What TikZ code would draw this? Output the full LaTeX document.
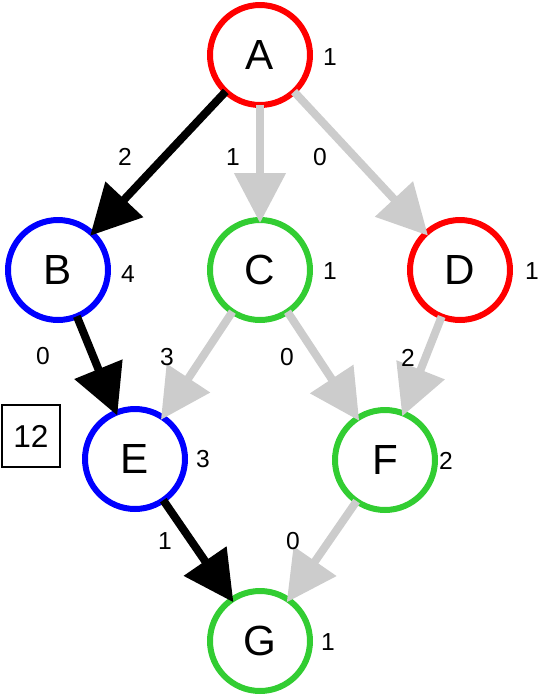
\documentclass[tikz,border=0pt]{standalone}
\usepackage{fontspec}
\setmainfont{Liberation Sans}
\usetikzlibrary{arrows.meta}
\definecolor{vred}{RGB}{255,0,0}
\definecolor{vblue}{RGB}{0,0,255}
\definecolor{vgreen}{RGB}{50,205,50}
\definecolor{egray}{RGB}{204,204,204}
\begin{document}
\begin{tikzpicture}[x=0.02cm,y=-0.02cm,
  vertex/.style={circle,draw,line width=0.12cm,minimum size=2cm,inner sep=0pt,outer sep=0pt,font=\fontsize{24}{28}\selectfont},
  wt/.style={font=\fontsize{14}{16}\selectfont,inner sep=0pt},
  used/.style={line width=0.16cm,-{Triangle[length=1cm,width=1cm]},shorten >=-0.06cm},
  unused/.style={used,color=egray}]
\useasboundingbox (0,0) rectangle (542,698);
% vertices
\node[vertex,draw=vred] (A) at (260,55) {A};
\node[vertex,draw=vblue] (B) at (58,270) {B};
\node[vertex,draw=vgreen] (C) at (260,270) {C};
\node[vertex,draw=vred] (D) at (460,270) {D};
\node[vertex,draw=vblue] (E) at (135,459) {E};
\node[vertex,draw=vgreen] (F) at (385,460) {F};
\node[vertex,draw=vgreen] (G) at (260,641) {G};
% vertex weights
\node[wt] (wA) at (330,57) {1};
\node[wt] (wB) at (128,274) {4};
\node[wt] (wC) at (330,271) {1};
\node[wt] (wD) at (532,271) {1};
\node[wt] (wE) at (203,459) {3};
\node[wt] (wF) at (446,461) {2};
\node[wt] (wG) at (328,642) {1};
% edges
\draw[used] (A) -- (B);
\draw[unused] (A) -- (C);
\draw[unused] (A) -- (D);
\draw[used] (B) -- (E);
\draw[unused] (C) -- (E);
\draw[unused] (C) -- (F);
\draw[unused] (D) -- (F);
\draw[used] (E) -- (G);
\draw[unused] (F) -- (G);
% edge weights
\node[wt] (eAB) at (125,157) {2};
\node[wt] (eAC) at (233,157) {1};
\node[wt] (eAD) at (320,157) {0};
\node[wt] (eBE) at (43,356) {0};
\node[wt] (eCE) at (167,357) {3};
\node[wt] (eCF) at (287,357) {0};
\node[wt] (eDF) at (408,358) {2};
\node[wt] (eEG) at (165,541) {1};
\node[wt] (eFG) at (293,541) {0};
% total
\node[draw,line width=0.05cm,minimum width=1.16cm,minimum height=1.24cm,inner sep=0pt,font=\fontsize{18}{20}\selectfont] (total) at (31,436) {12};
\end{tikzpicture}
\end{document}
